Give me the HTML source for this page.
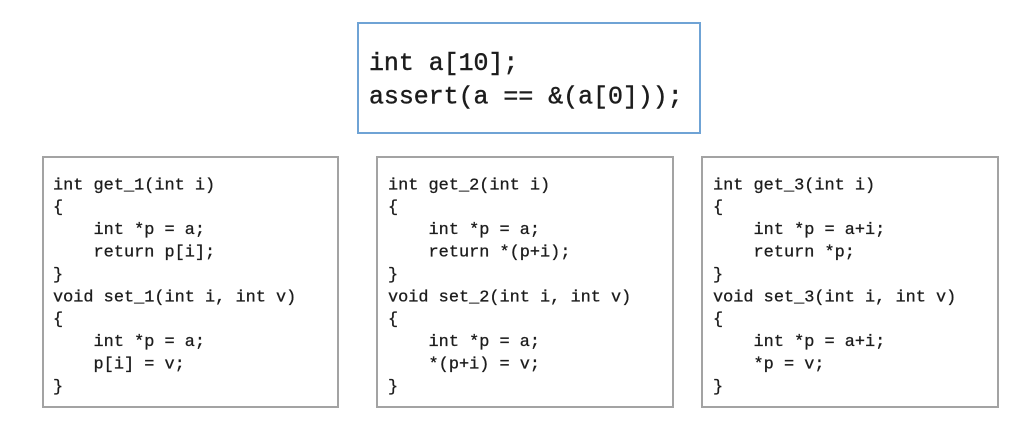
<!DOCTYPE html>
<html>
<head>
<meta charset="utf-8">
<style>
  html, body { margin:0; padding:0; background:#ffffff; }
  body { width:1031px; height:435px; overflow:hidden; }
  svg { display:block; }
  text { font-family:"Liberation Mono", monospace; fill:#1c1c1c; white-space:pre; stroke:#1c1c1c; }
  .s { font-size:16.9px; stroke-width:0.3px; }
  .b { font-size:24.9px; stroke-width:0.45px; }
</style>
</head>
<body>
<svg width="1031" height="435" viewBox="0 0 1031 435" xmlns="http://www.w3.org/2000/svg">
  <rect x="0" y="0" width="1031" height="435" fill="#ffffff"/>

  <!-- top box -->
  <rect x="358" y="23" width="342" height="110" fill="none" stroke="#6fa3d5" stroke-width="2"/>
  <text class="b" x="369" y="70">int a[10];</text>
  <text class="b" x="369" y="103.3">assert(a == &amp;(a[0]));</text>

  <!-- boxes -->
  <rect x="43" y="157" width="295" height="250" fill="none" stroke="#a3a3a3" stroke-width="2"/>
  <rect x="377" y="157" width="296" height="250" fill="none" stroke="#a3a3a3" stroke-width="2"/>
  <rect x="702" y="157" width="296" height="250" fill="none" stroke="#a3a3a3" stroke-width="2"/>

  <!-- box 1 -->
  <g>
    <text class="s" x="53" y="189.3">int get_1(int i)</text>
    <text class="s" x="53" y="211.7">{</text>
    <text class="s" x="53" y="234.1">    int *p = a;</text>
    <text class="s" x="53" y="256.5">    return p[i];</text>
    <text class="s" x="53" y="278.9">}</text>
    <text class="s" x="53" y="301.3">void set_1(int i, int v)</text>
    <text class="s" x="53" y="323.7">{</text>
    <text class="s" x="53" y="346.1">    int *p = a;</text>
    <text class="s" x="53" y="368.5">    p[i] = v;</text>
    <text class="s" x="53" y="390.9">}</text>
  </g>

  <!-- box 2 -->
  <g>
    <text class="s" x="388" y="189.3">int get_2(int i)</text>
    <text class="s" x="388" y="211.7">{</text>
    <text class="s" x="388" y="234.1">    int *p = a;</text>
    <text class="s" x="388" y="256.5">    return *(p+i);</text>
    <text class="s" x="388" y="278.9">}</text>
    <text class="s" x="388" y="301.3">void set_2(int i, int v)</text>
    <text class="s" x="388" y="323.7">{</text>
    <text class="s" x="388" y="346.1">    int *p = a;</text>
    <text class="s" x="388" y="368.5">    *(p+i) = v;</text>
    <text class="s" x="388" y="390.9">}</text>
  </g>

  <!-- box 3 -->
  <g>
    <text class="s" x="713" y="189.3">int get_3(int i)</text>
    <text class="s" x="713" y="211.7">{</text>
    <text class="s" x="713" y="234.1">    int *p = a+i;</text>
    <text class="s" x="713" y="256.5">    return *p;</text>
    <text class="s" x="713" y="278.9">}</text>
    <text class="s" x="713" y="301.3">void set_3(int i, int v)</text>
    <text class="s" x="713" y="323.7">{</text>
    <text class="s" x="713" y="346.1">    int *p = a+i;</text>
    <text class="s" x="713" y="368.5">    *p = v;</text>
    <text class="s" x="713" y="390.9">}</text>
  </g>
</svg>
</body>
</html>
